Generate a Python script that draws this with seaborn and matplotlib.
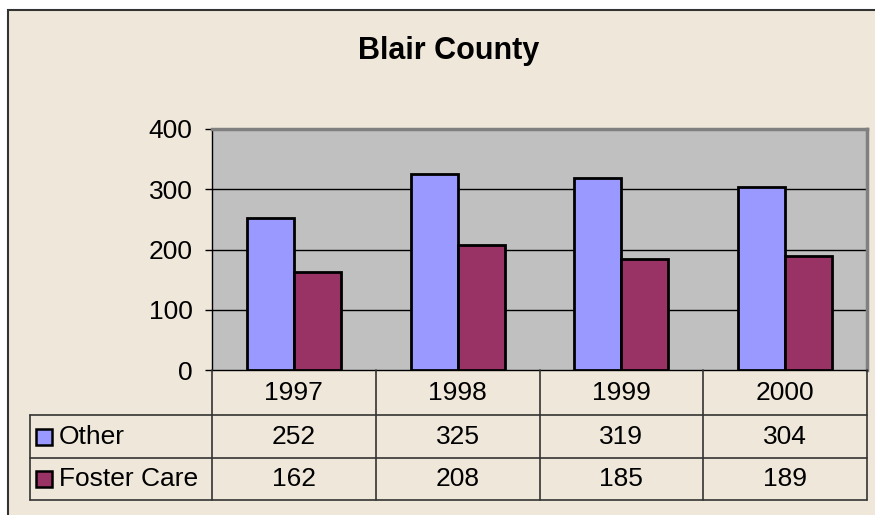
import matplotlib
matplotlib.use("Agg")
import matplotlib.pyplot as plt
import matplotlib.patches as mpatches
from matplotlib.transforms import blended_transform_factory
import seaborn as sns
import pandas as pd

years = ["1997", "1998", "1999", "2000"]
series_names = ["Other", "Foster Care"]
other = [252, 325, 319, 304]
foster = [162, 208, 185, 189]
yticks = [0, 100, 200, 300, 400]
title = "Blair County"
colors = ["#9999FF", "#993366"]

sns.set_theme(style="white")
plt.rcParams["font.family"] = ["Liberation Sans", "DejaVu Sans"]
plt.rcParams["text.color"] = "black"
plt.rcParams["ytick.color"] = "black"
plt.rcParams["ytick.labelcolor"] = "black"

df = pd.DataFrame({
    "year": years * 2,
    "series": [series_names[0]] * 4 + [series_names[1]] * 4,
    "value": other + foster,
})

W, H = 875, 515
FS = 19
fig = plt.figure(figsize=(W / 100, H / 100), dpi=100, facecolor="white")

def fx(px):
    return px / W

def fy(py):
    return 1 - py / H

# outer chart area
bg = mpatches.Rectangle((fx(8), fy(540)), fx(900), (540 - 10) / H,
                        transform=fig.transFigure, facecolor="#EFE8DA",
                        edgecolor="#333333", linewidth=1.5, zorder=-10)
fig.patches.append(bg)

left, right, top, bottom = 212, 867, 129, 370
ax = fig.add_axes([fx(left), fy(bottom), fx(right - left), (bottom - top) / H])
ax.set_zorder(1)
ax.set_facecolor("#C0C0C0")

sns.barplot(data=df, x="year", y="value", hue="series", palette=colors,
            saturation=1, width=0.574, edgecolor="black", linewidth=2,
            legend=False, ax=ax, zorder=3)

ax.set_ylim(0, 400)
ax.set_xlim(-0.5, 3.5)
ax.set_yticks(yticks)
ax.set_yticklabels([str(t) for t in yticks], fontsize=FS)
ax.set_xticks([])
ax.set_xlabel("")
ax.set_ylabel("")
ax.tick_params(axis="y", direction="out", length=5, width=1, color="black",
               pad=9, left=True, labelcolor="black")
for t in yticks[1:-1]:
    ax.axhline(t, color="black", linewidth=1, zorder=1)

ax.spines["left"].set_color("black")
ax.spines["left"].set_linewidth(1)
ax.spines["bottom"].set_color("black")
ax.spines["bottom"].set_linewidth(1)
ax.spines["top"].set_color("#808080")
ax.spines["top"].set_linewidth(2.5)
ax.spines["right"].set_color("#808080")
ax.spines["right"].set_linewidth(2.5)

fig.text(fx(449), fy(51), title, fontsize=22, fontweight="bold",
         ha="center", va="center", color="black")

# data table
tr = blended_transform_factory(ax.transData, fig.transFigure)
tbl_left = 30
line_kw = dict(color="#333333", linewidth=1.2, zorder=5)

for yl in [415, 458, 500]:
    fig.add_artist(plt.Line2D([fx(tbl_left), fx(right)], [fy(yl), fy(yl)],
                              transform=fig.transFigure, **line_kw))
fig.add_artist(plt.Line2D([fx(tbl_left), fx(tbl_left)], [fy(415), fy(500)],
                          transform=fig.transFigure, **line_kw))
for i in range(len(years) + 1):
    xb = i - 0.5
    fig.add_artist(plt.Line2D([xb, xb], [fy(370), fy(500)], transform=tr,
                              **line_kw))

for i, yr in enumerate(years):
    fig.text(i, fy((370 + 415) / 2), yr, transform=tr, ha="center",
             va="center", fontsize=FS)
    fig.text(i, fy((415 + 458) / 2), str(other[i]), transform=tr,
             ha="center", va="center", fontsize=FS)
    fig.text(i, fy((458 + 500) / 2), str(foster[i]), transform=tr,
             ha="center", va="center", fontsize=FS)

for name, col, (r0, r1) in zip(series_names, colors, [(415, 458), (458, 500)]):
    yc = (r0 + r1) / 2
    key = mpatches.Rectangle((fx(36), fy(yc + 8)), fx(16), 16 / H,
                             transform=fig.transFigure, facecolor=col,
                             edgecolor="black", linewidth=1.8, zorder=6)
    fig.add_artist(key)
    fig.text(fx(59), fy(yc), name, ha="left", va="center", fontsize=FS)

fig.savefig("out.png", dpi=100, facecolor=fig.get_facecolor())
